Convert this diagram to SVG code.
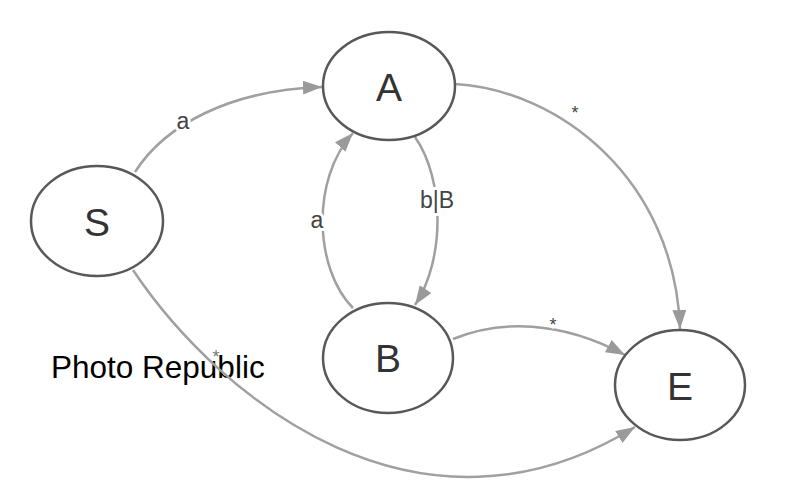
<svg xmlns="http://www.w3.org/2000/svg" width="800" height="500" viewBox="0 0 800 500">
<defs>
<marker id="arr" markerUnits="userSpaceOnUse" markerWidth="20" markerHeight="16" refX="19" refY="7" orient="auto">
<path d="M0,0 L19,7 L0,14 z" fill="#9a9a9a"/>
</marker>
<style>
.node ellipse{fill:#fff;stroke:#585858;stroke-width:2.5}
.node text{font-family:"Liberation Sans",Arial,sans-serif;font-size:39px;fill:#333;text-anchor:middle;dominant-baseline:central}
.edge{fill:none;stroke:#a0a0a0;stroke-width:2.5;marker-end:url(#arr)}
.lbl{font-family:"Liberation Sans",Arial,sans-serif;font-size:23px;fill:#444;text-anchor:middle;dominant-baseline:central;stroke:#fff;stroke-width:6;paint-order:stroke}
.star{font-size:18px}
</style>
</defs>
<rect width="800" height="500" fill="#fff"/>
<text x="51" y="378" font-family="Liberation Sans,Arial,sans-serif" font-size="31.5" fill="#000">Photo Republic</text>
<g id="connectors">
<path class="edge" d="M135,172 C165,125 230,90 322,87"/>
<path class="edge" d="M455,84 C560,90 675,180 680,329"/>
<path class="edge" d="M353,308 C315,270 310,180 353,133"/>
<path class="edge" d="M415,137 C445,180 445,260 415,305"/>
<path class="edge" d="M453,339 C500,320 560,320 625,355"/>
<path class="edge" d="M133,270 C220,400 420,560 635,427"/>
<text class="lbl" x="183" y="121">a</text>
<text class="lbl star" x="575" y="113">*</text>
<text class="lbl" x="317" y="220">a</text>
<text class="lbl" x="437" y="200">b|B</text>
<text class="lbl star" x="553" y="325">*</text>
<text class="lbl star" x="216" y="357" style="stroke:none;fill:#777">*</text>
</g>
<g id="node-S" class="node"><ellipse cx="97" cy="221" rx="66" ry="55"/><text x="97" y="222">S</text></g>
<g id="node-A" class="node"><ellipse cx="389" cy="86" rx="66" ry="54"/><text x="389" y="87">A</text></g>
<g id="node-B" class="node"><ellipse cx="388" cy="358" rx="65" ry="55"/><text x="388" y="358">B</text></g>
<g id="node-E" class="node"><ellipse cx="680" cy="385" rx="65" ry="55"/><text x="680" y="386">E</text></g>
</svg>
